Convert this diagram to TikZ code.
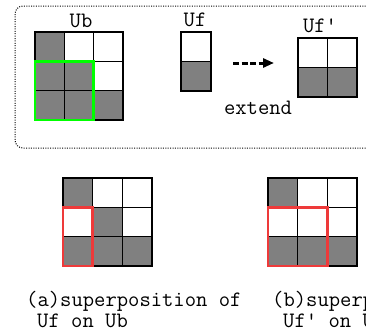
\documentclass[tikz,border=0pt]{standalone}
\usepackage{fontspec}
\usetikzlibrary{arrows.meta}
\definecolor{cellgray}{RGB}{128,128,128}
\definecolor{hlgreen}{RGB}{0,255,0}
\definecolor{hlred}{RGB}{238,58,58}
\begin{document}
\begin{tikzpicture}[x=1pt,y=-1pt,
  every node/.style={font=\ttfamily\fontsize{22}{22}\selectfont, inner sep=0pt},
  gridframe/.style={draw=black, line width=2pt, inner sep=0pt},
  gridline/.style={line width=0.9pt, black},
  cell/.style={fill=cellgray},
  greenbox/.style={draw=hlgreen, line width=2.5pt},
  redbox/.style={draw=hlred, line width=2.5pt},
  dashedarrow/.style={line width=3pt, dash pattern=on 6pt off 2.5pt, -{Triangle[length=11pt,width=9pt]}},
  groupbox/.style={draw, dash pattern=on 1pt off 1.4pt, line width=1pt, rounded corners=8pt}]
\useasboundingbox (0,0) rectangle (366,332);
\clip (0,0) rectangle (366,332);
\fill[white] (0,0) rectangle (366,332);

% group frame
\draw[groupbox] (15,6) rectangle (420,148);

% ---- Ub grid (35,32)-(123,120)
\foreach \c/\r in {0/0,0/1,1/1,0/2,1/2,2/2}
  \fill[cell] ({35+\c*29.33},{32+\r*29.33}) rectangle +(29.33,29.33);
\foreach \i in {1,2} {
  \draw[gridline] ({35+\i*29.33},32) -- ({35+\i*29.33},120);
  \draw[gridline] (35,{32+\i*29.33}) -- (123,{32+\i*29.33});
}
\node[gridframe, minimum width=88pt, minimum height=88pt] (ub) at (79,76) {};
\draw[greenbox] (35,61.33) rectangle (93.67,120);
\node (ublabel) at (81,21) {Ub};

% ---- Uf (181,32)-(211,91)
\fill[cell] (181,61.5) rectangle (211,91);
\draw[gridline] (181,61.5) -- (211,61.5);
\node[gridframe, minimum width=30pt, minimum height=59pt] (uf) at (196,61.5) {};
\node (uflabel) at (195,20) {Uf};

% ---- Uf' (298,38)-(357,97)
\fill[cell] (298,67.5) rectangle (357,97);
\draw[gridline] (327.5,38) -- (327.5,97);
\draw[gridline] (298,67.5) -- (357,67.5);
\node[gridframe, minimum width=59pt, minimum height=59pt] (ufp) at (327.5,67.5) {};
\node (ufplabel) at (320,26) {Uf'};

% arrow
\coordinate (arrowstart) at (233,63);
\coordinate (arrowend) at (274,63);
\draw[dashedarrow] (arrowstart) -- (arrowend);
\node (extend) at (258,108) {extend};

% ---- bottom left grid (63,178)-(153,266)
\foreach \c/\r in {0/0,1/1,0/2,1/2,2/2}
  \fill[cell] ({63+\c*29.67},{178+\r*29.33}) rectangle +(29.67,29.33);
\foreach \i in {1,2} {
  \draw[gridline] ({63+\i*29.67},178) -- ({63+\i*29.67},266);
  \draw[gridline] (63,{178+\i*29.33}) -- (152,{178+\i*29.33});
}
\node[gridframe, minimum width=89pt, minimum height=88pt] (ga) at (107.5,222) {};
\draw[redbox] (63,207.33) rectangle (92.67,266);

% ---- bottom right grid (268,178)-(357,266)
\foreach \c/\r in {0/0,0/2,1/2,2/2}
  \fill[cell] ({268+\c*29.67},{178+\r*29.33}) rectangle +(29.67,29.33);
\foreach \i in {1,2} {
  \draw[gridline] ({268+\i*29.67},178) -- ({268+\i*29.67},266);
  \draw[gridline] (268,{178+\i*29.33}) -- (357,{178+\i*29.33});
}
\node[gridframe, minimum width=89pt, minimum height=88pt] (gb) at (312.5,222) {};
\draw[redbox] (268,207.33) rectangle (327.33,266);

% captions
\node[anchor=west] (capa1) at (26,301) {(a)superposition of};
\node[anchor=west] (capa2) at (37,321) {Uf on Ub};
\node[anchor=west] (capb1) at (272,301) {(b)superposition of};
\node[anchor=west] (capb2) at (283,321) {Uf' on Ub};
\end{tikzpicture}
\end{document}
